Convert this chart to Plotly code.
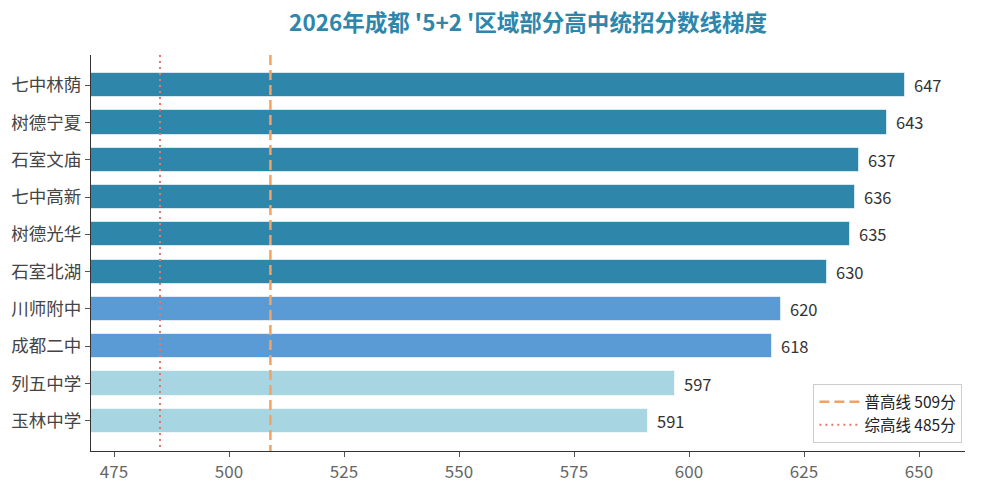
import plotly.graph_objects as go

# data
schools = ["七中林荫", "树德宁夏", "石室文庙", "七中高新", "树德光华",
           "石室北湖", "川师附中", "成都二中", "列五中学", "玉林中学"]
scores = [647, 643, 637, 636, 635, 630, 620, 618, 597, 591]
tiers = ["top", "top", "top", "top", "top", "top", "mid", "mid", "low", "low"]
line_names = ["普高线 509分", "综高线 485分"]
line_values = [509, 485]

tier_colors = {"top": "#2E86AB", "mid": "#5B9BD5", "low": "#A8D5E2"}
font_family = "Noto Sans CJK SC, Noto Sans, sans-serif"

pos = list(range(len(schools)))
y_lo, y_hi = -0.81, len(schools) - 1 + 0.81

fig = go.Figure()

fig.add_trace(go.Bar(
    x=scores, y=pos, orientation="h", width=0.65,
    marker=dict(color=[tier_colors[t] for t in tiers],
                line=dict(color="rgba(255,255,255,0.6)", width=1)),
    showlegend=False, hoverinfo="x+y",
))

# threshold lines (drawn on top of the bars)
styles = [dict(color="#F4A261", width=2.5, dash="10px,5px"),
          dict(color="#E07A6A", width=2, dash="2px,4px")]
for name, val, st in zip(line_names, line_values, styles):
    fig.add_trace(go.Scatter(
        x=[val, val], y=[y_lo, y_hi], mode="lines", name=name,
        line=st, hoverinfo="name",
    ))

# value labels at bar ends
for p, s in zip(pos, scores):
    fig.add_annotation(x=s, y=p, text=str(s), showarrow=False,
                       xanchor="left", xshift=7,
                       font=dict(size=16.5, color="#333333", family=font_family))

# the page body adds 8px on the left/top, margins account for it
fig.update_layout(
    width=981, height=483,
    margin=dict(l=83, r=24, t=47, b=40),
    plot_bgcolor="white", paper_bgcolor="white",
    font=dict(family=font_family, size=15, color="#555555"),
    title=dict(text="<b>2026年成都 '5+2 '区域部分高中统招分数线梯度</b>",
               x=0.5, xref="paper", xanchor="center", y=0.969, yanchor="middle",
               font=dict(size=22.5, color="#2E86AB", family=font_family)),
    legend=dict(x=0.997, y=0.02, xanchor="right", yanchor="bottom",
                bordercolor="#CCCCCC", borderwidth=1, bgcolor="white",
                itemwidth=40, tracegroupgap=4,
                font=dict(size=15.5, color="#222222")),
    bargap=0,
)

fig.update_xaxes(range=[470, 660], tickvals=[475, 500, 525, 550, 575, 600, 625, 650],
                 showgrid=False, zeroline=False, automargin=False,
                 showline=True, linecolor="#333333", linewidth=1.3,
                 ticks="outside", ticklen=5, tickcolor="#555555",
                 tickfont=dict(size=17, color="#666666"))
fig.update_yaxes(range=[y_hi, y_lo], tickvals=pos, ticktext=schools,
                 showgrid=False, zeroline=False, automargin=False,
                 showline=True, linecolor="#333333", linewidth=1.3,
                 ticks="outside", ticklen=5, tickcolor="#555555",
                 tickfont=dict(size=17.5, color="#444444"))

fig.write_html("out.html")
